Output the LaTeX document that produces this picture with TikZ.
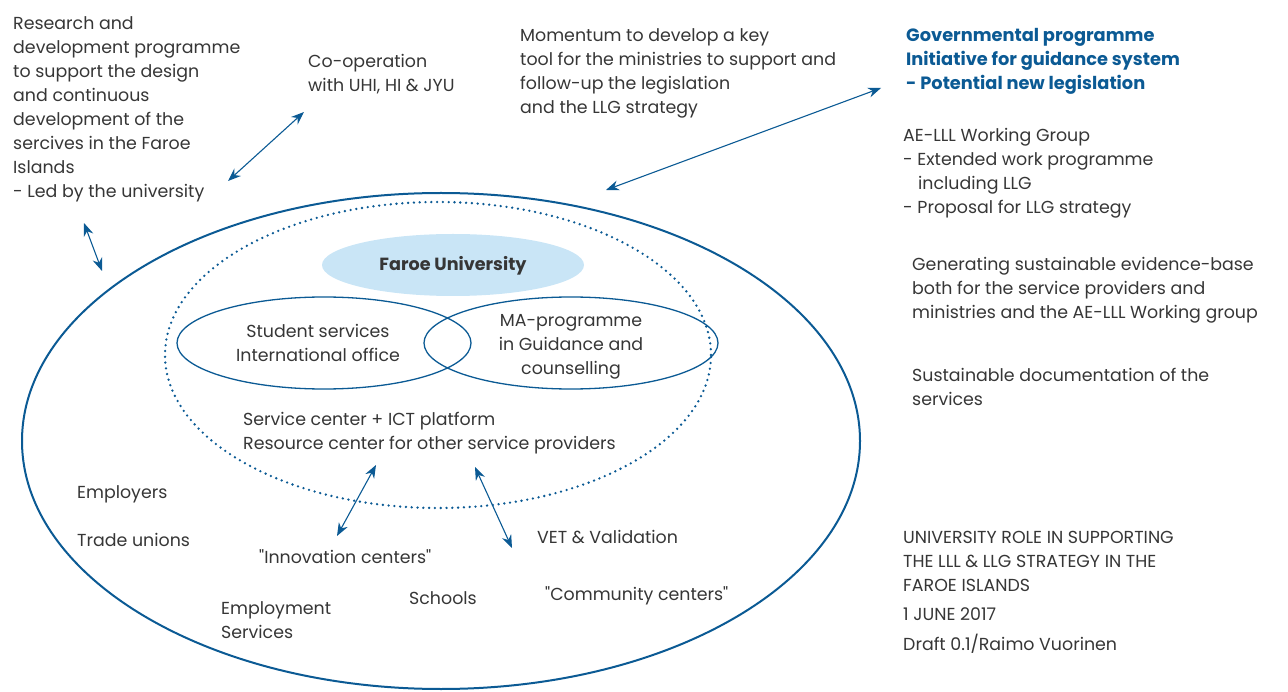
\documentclass[tikz,border=0pt]{standalone}
\usepackage{fontspec}
\setmainfont{Poppins}
\newfontfamily\qfont{Poppins}
\newcommand{\sq}{{\qfont"}}
\usetikzlibrary{arrows.meta}
\definecolor{dblue}{HTML}{0B5A94}
\definecolor{lblue}{HTML}{C9E5F6}
\definecolor{txt}{HTML}{363636}
\begin{document}
\begin{tikzpicture}[x=1pt,y=-1pt,
  lbl/.style={anchor=north west,align=left,inner sep=0pt,text=txt,font=\fontsize{17.4}{24}\selectfont},
  clbl/.style={align=center,inner sep=0pt,text=txt,font=\fontsize{17.4}{24}\selectfont},
  biarrow/.style={draw=dblue,line width=1.1pt,{Stealth[length=13pt,width=10pt]}-{Stealth[length=13pt,width=10pt]}},
  ring/.style={draw=dblue,line width=1.3pt}]
\useasboundingbox (0,0) rectangle (1288,692);
% ellipses
\draw[draw=dblue,line width=2pt] (441,441) ellipse [x radius=419pt, y radius=248pt];
\draw[draw=dblue,line width=2.6pt,line cap=round,dash pattern=on 0pt off 5.8pt] (438,355) ellipse [x radius=273pt, y radius=153pt];
\fill[lblue] (453,265) ellipse [x radius=131pt, y radius=31pt];
\draw[ring] (324,343) ellipse [x radius=147pt, y radius=46pt];
\draw[ring] (571,343) ellipse [x radius=147pt, y radius=46pt];
% texts
\node[lbl] (rd) at (13,16) {Research and\\development programme\\to support the design\\and continuous\\development of the\\sercives in the Faroe\\Islands\\- Led by the university};
\node[lbl] (coop) at (308,54) {Co-operation\\with UHI, HI \& JYU};
\node[lbl] (mom) at (520,28) {Momentum to develop a key\\tool for the ministries to support and\\follow-up the legislation\\and the LLG strategy};
\node[lbl,text=dblue,font=\fontsize{17.8}{24}\selectfont\bfseries] (gov) at (906,28) {Governmental programme\\Initiative for guidance system\\- Potential new legislation};
\node[lbl] (ae) at (903,128) {AE-LLL Working Group\\- Extended work programme\\\hspace*{15pt}including LLG\\- Proposal for LLG strategy};
\node[lbl] (gen) at (912,257) {Generating sustainable evidence-base\\both for the service providers and\\ministries and the AE-LLL Working group};
\node[lbl] (sus) at (912,368) {Sustainable documentation of the\\services};
\node[lbl] (uni) at (903,531) {UNIVERSITY ROLE IN SUPPORTING\\THE LLL \& LLG STRATEGY IN THE\\FAROE ISLANDS};
\node[lbl] (date) at (903,607) {1 JUNE 2017};
\node[lbl] (draft) at (903,634) {Draft 0.1/Raimo Vuorinen};
\node[clbl,font=\fontsize{17.6}{24}\selectfont\bfseries] (fu) at (453,266) {Faroe University};
\node[clbl] (ss) at (318,343) {Student services\\International office};
\node[clbl] (ma) at (571,347) {MA-programme\\in Guidance and\\counselling};
\node[lbl] (sc) at (243,412) {Service center + ICT platform\\Resource center for other service providers};
\node[lbl] (emp) at (77,485) {Employers};
\node[lbl] (tu) at (77,533) {Trade unions};
\node[lbl] (inn) at (259,549) {\sq Innovation centers\sq};
\node[lbl] (vet) at (537,530) {VET \& Validation};
\node[lbl] (sch) at (409,591) {Schools};
\node[lbl] (com) at (545,586) {\sq Community centers\sq};
\node[lbl] (es) at (221,601) {Employment\\Services};
% arrow endpoints
\coordinate (a1) at (228,181); \coordinate (b1) at (304,112);
\coordinate (a2) at (84,223); \coordinate (b2) at (102,271);
\coordinate (a3) at (606,190); \coordinate (b3) at (881,88);
\coordinate (a4) at (376,465); \coordinate (b4) at (337,536);
\coordinate (a5) at (475,467); \coordinate (b5) at (512,548);
\draw[biarrow] (a1) -- (b1);
\draw[biarrow] (a2) -- (b2);
\draw[biarrow] (a3) -- (b3);
\draw[biarrow] (a4) -- (b4);
\draw[biarrow] (a5) -- (b5);
\end{tikzpicture}
\end{document}
